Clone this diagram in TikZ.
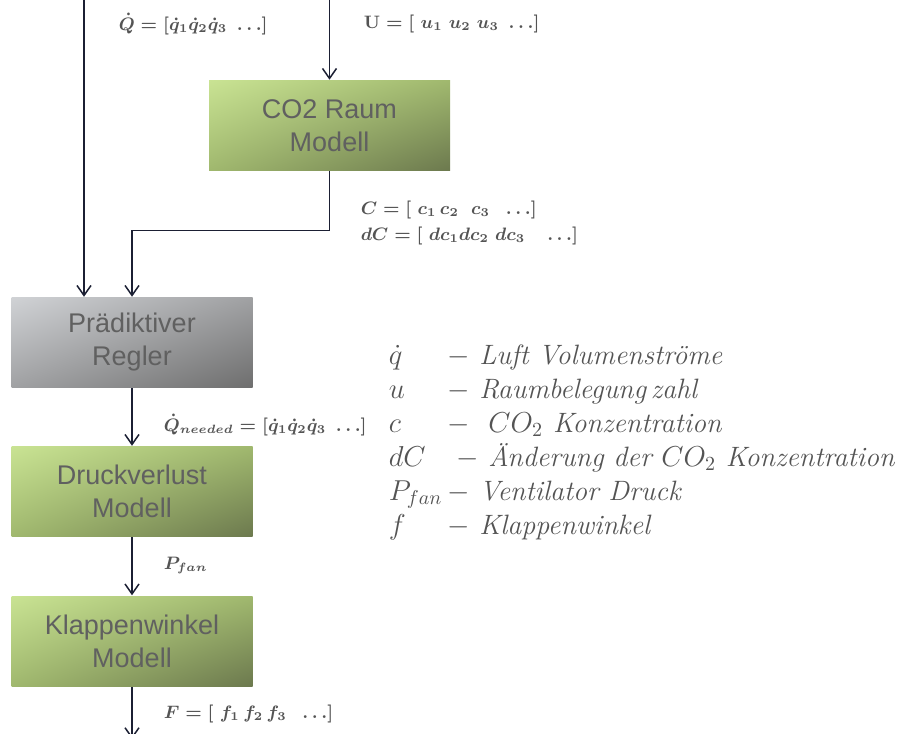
\documentclass[tikz,border=0pt]{standalone}
\usepackage{amsmath}
\usepackage{amssymb}
\usepackage{fontspec}
\usepackage{tikz}
\usetikzlibrary{arrows.meta,positioning,shadings}

\newfontfamily\boxfont{Liberation Sans}

\definecolor{linecol}{RGB}{27,31,51}
\definecolor{txtgray}{RGB}{84,84,84}
\definecolor{boxtxt}{RGB}{96,96,96}
\definecolor{greenlt}{RGB}{201,227,147}
\definecolor{greenmd}{RGB}{160,184,110}
\definecolor{greendk}{RGB}{108,121,78}
\definecolor{graylt}{RGB}{208,210,213}
\definecolor{graymd}{RGB}{160,161,163}
\definecolor{graydk}{RGB}{110,110,110}

\tikzset{
  model/.style={rectangle, minimum width=120.5pt, minimum height=45pt, align=center,
    inner sep=0pt, text=boxtxt, font=\boxfont\fontsize{13.5}{16.5}\selectfont,
    upper left=greenlt, upper right=greenmd, lower left=greenmd, lower right=greendk},
  ctrl/.style={model, upper left=graylt, upper right=graymd, lower left=graymd, lower right=graydk},
  sig/.style={anchor=west, inner sep=0pt, text=txtgray, font=\boldmath\fontsize{9}{13}\selectfont},
}

\begin{document}
\begin{tikzpicture}[x=0.5pt, y=-0.5pt, >={Straight Barb[length=5pt,width=7pt]}, line width=0.75pt]

  \useasboundingbox (0,0) rectangle (904,733);

  % Modelle und Regler
  \node[model] (raum) at (329.5,125.5) {CO2 Raum\\Modell};
  \node[ctrl] (regler) at (132,342.5) {Prädiktiver\\Regler};
  \node[model, below=28.75pt of regler] (druck) {Druckverlust\\Modell};
  \node[model, below=29pt of druck] (klappe) {Klappenwinkel\\Modell};

  \coordinate (qin) at (84,0);
  \coordinate (uin) at (329.5,0);
  \coordinate (fout) at (132,739);

  % Verbindungen
  \draw[->, linecol] (qin) -- (qin |- regler.north);
  \draw[->, linecol] (uin) -- (raum.north);
  \draw[->, linecol] (raum.south) -- ++(0,59) -| (regler.north);
  \draw[->, linecol] (regler.south) -- (druck.north);
  \draw[->, linecol] (druck.south) -- (klappe.north);
  \draw[->, linecol] (klappe.south) -- (fout);

  % Signale
  \node[sig] (qlab) at (118,24) {$\dot{Q}=[\dot{q}_1\dot{q}_2\dot{q}_3\ \ldots]$};
  \node[sig] (ulab) at (363,24) {$\mathbf{U}=[\ u_1\ u_2\ u_3\ \ldots]$};
  \node[sig, align=left] (clab) at (360,223) {$C=[\ c_1\,c_2\ \ c_3\ \ \ldots]$\\$dC=[\ dc_1dc_2\ dc_3\ \ \ \ldots]$};
  \node[sig] (qnlab) at (163,425) {$\dot{Q}_{needed}=[\dot{q}_1\dot{q}_2\dot{q}_3\ \ldots]$};
  \node[sig] (plab) at (163,565) {$P_{fan}$};
  \node[sig] (flab) at (163,714) {$F=[\ f_1\,f_2\,f_3\ \ \ldots]$};

  % Legende
  \node[anchor=north west, inner sep=0pt, text=txtgray, font=\fontsize{14}{17}\selectfont] (legende) at (388,340) {%
    \begin{tabular}{@{}p{29.5pt}@{}l@{}}
      $\dot{q}$ & $-$ \textit{Luft Volumenströme}\\
      $u$ & $-$ \textit{Raumbelegung\,zahl}\\
      $c$ & $-$\ \ \textit{$CO_2$ Konzentration}\\
      $dC$ & \ $-$ \textit{Änderung der $CO_2$ Konzentration}\\
      $P_{fan}$ & $-$ \textit{Ventilator Druck}\\
      $f$ & $-$ \textit{Klappenwinkel}
    \end{tabular}};

\end{tikzpicture}
\end{document}
